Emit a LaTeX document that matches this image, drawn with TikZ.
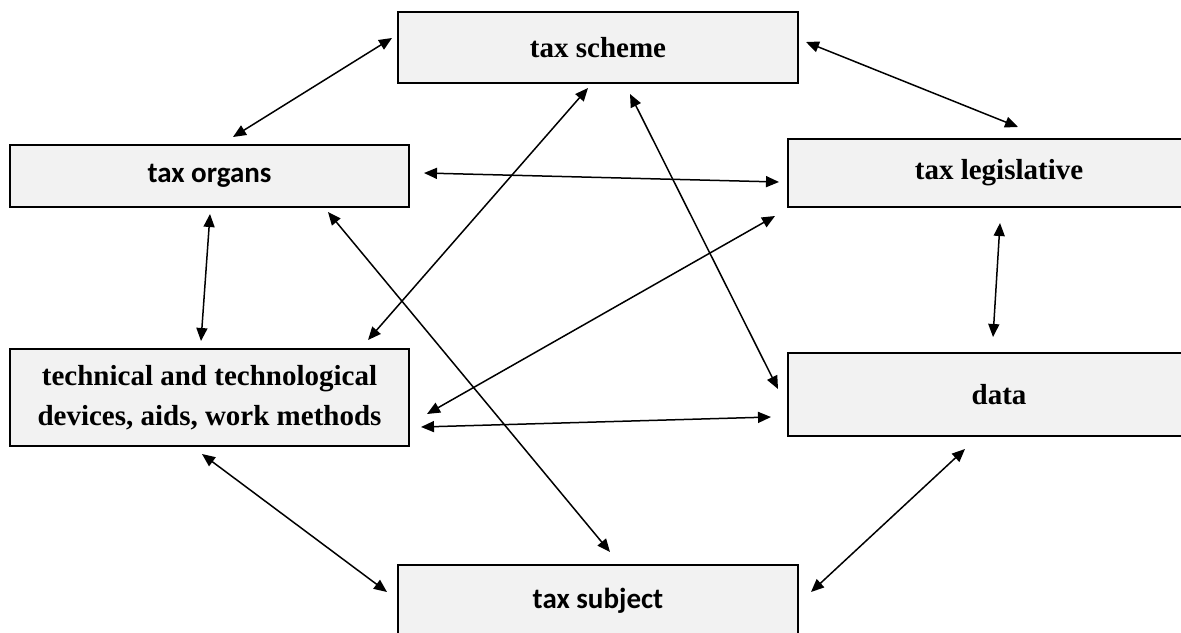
\documentclass[tikz,border=0pt]{standalone}
\usepackage{fontspec}
\setmainfont{Liberation Serif}
\newfontfamily\calibfont{Carlito}
\usetikzlibrary{arrows.meta,calc}
\definecolor{boxgray}{RGB}{242,242,242}
\tikzset{
  box/.style={draw,line width=1pt,fill=boxgray,inner sep=0pt,
    font=\fontsize{14.5}{20}\selectfont\bfseries,align=center},
  link/.style={line width=0.75pt,{Triangle[length=6.5pt,width=5.5pt]}-{Triangle[length=6.5pt,width=5.5pt]}}
}
\begin{document}
\begin{tikzpicture}[x=0.5pt,y=-0.5pt]
 \useasboundingbox (0,0) rectangle (1181,632);
 \clip (0,0) rectangle (1181,632);
 % boxes
 \node[box,minimum width=200pt,minimum height=35.5pt] (scheme) at (598,47.5) {tax scheme};
 \node[box,minimum width=199.5pt,minimum height=31pt,font=\fontsize{14.5}{20}\selectfont\calibfont\bfseries] (organs) at (209.5,176) {tax organs};
 \node[box,minimum width=211pt,minimum height=34pt] (legis) at (999,173) {tax legislative};
 \node[box,minimum width=199.5pt,minimum height=48.5pt] (tech) at (209.5,397.5) {technical and technological\\devices, aids, work methods};
 \node[box,minimum width=211pt,minimum height=41.5pt] (data) at (999,394.5) {data};
 \node[box,minimum width=200pt,minimum height=36pt,font=\fontsize{14.5}{20}\selectfont\calibfont\bfseries] (subject) at (598,601) {tax subject};
 % links
 \draw[link] ($(scheme.west)+(-5,-9.5)$) -- ($(organs.north)+(23.5,-7)$);
 \draw[link] ($(scheme.east)+(7,-5.5)$) -- ($(legis.north)+(19,-11)$);
 \draw[link] ($(organs.east)+(14,-3)$) -- ($(legis.west)+(-8,9)$);
 \draw[link] ($(organs.south)+(0.5,6)$) -- ($(tech.north)+(-8.5,-7)$);
 \draw[link] ($(scheme.south)+(-10,4)$) -- ($(tech.north east)+(-42,-8)$);
 \draw[link] ($(scheme.south)+(32,10)$) -- ($(data.west)+(-9,-5.5)$);
 \draw[link] ($(organs.south east)+(-82,4)$) -- ($(subject.north)+(12,-12)$);
 \draw[link] ($(legis.south west)+(-12,8)$) -- ($(tech.east)+(17,16.5)$);
 \draw[link] ($(tech.east)+(11,29.5)$) -- ($(data.west)+(-16,22.5)$);
 \draw[link] ($(legis.south)+(1,15)$) -- ($(data.north)+(-6,-15)$);
 \draw[link] ($(tech.south)+(-7.5,7)$) -- ($(subject.west)+(-10,-9)$);
 \draw[link] ($(data.south)+(-34,12)$) -- ($(subject.east)+(12,-9)$);
\end{tikzpicture}
\end{document}
